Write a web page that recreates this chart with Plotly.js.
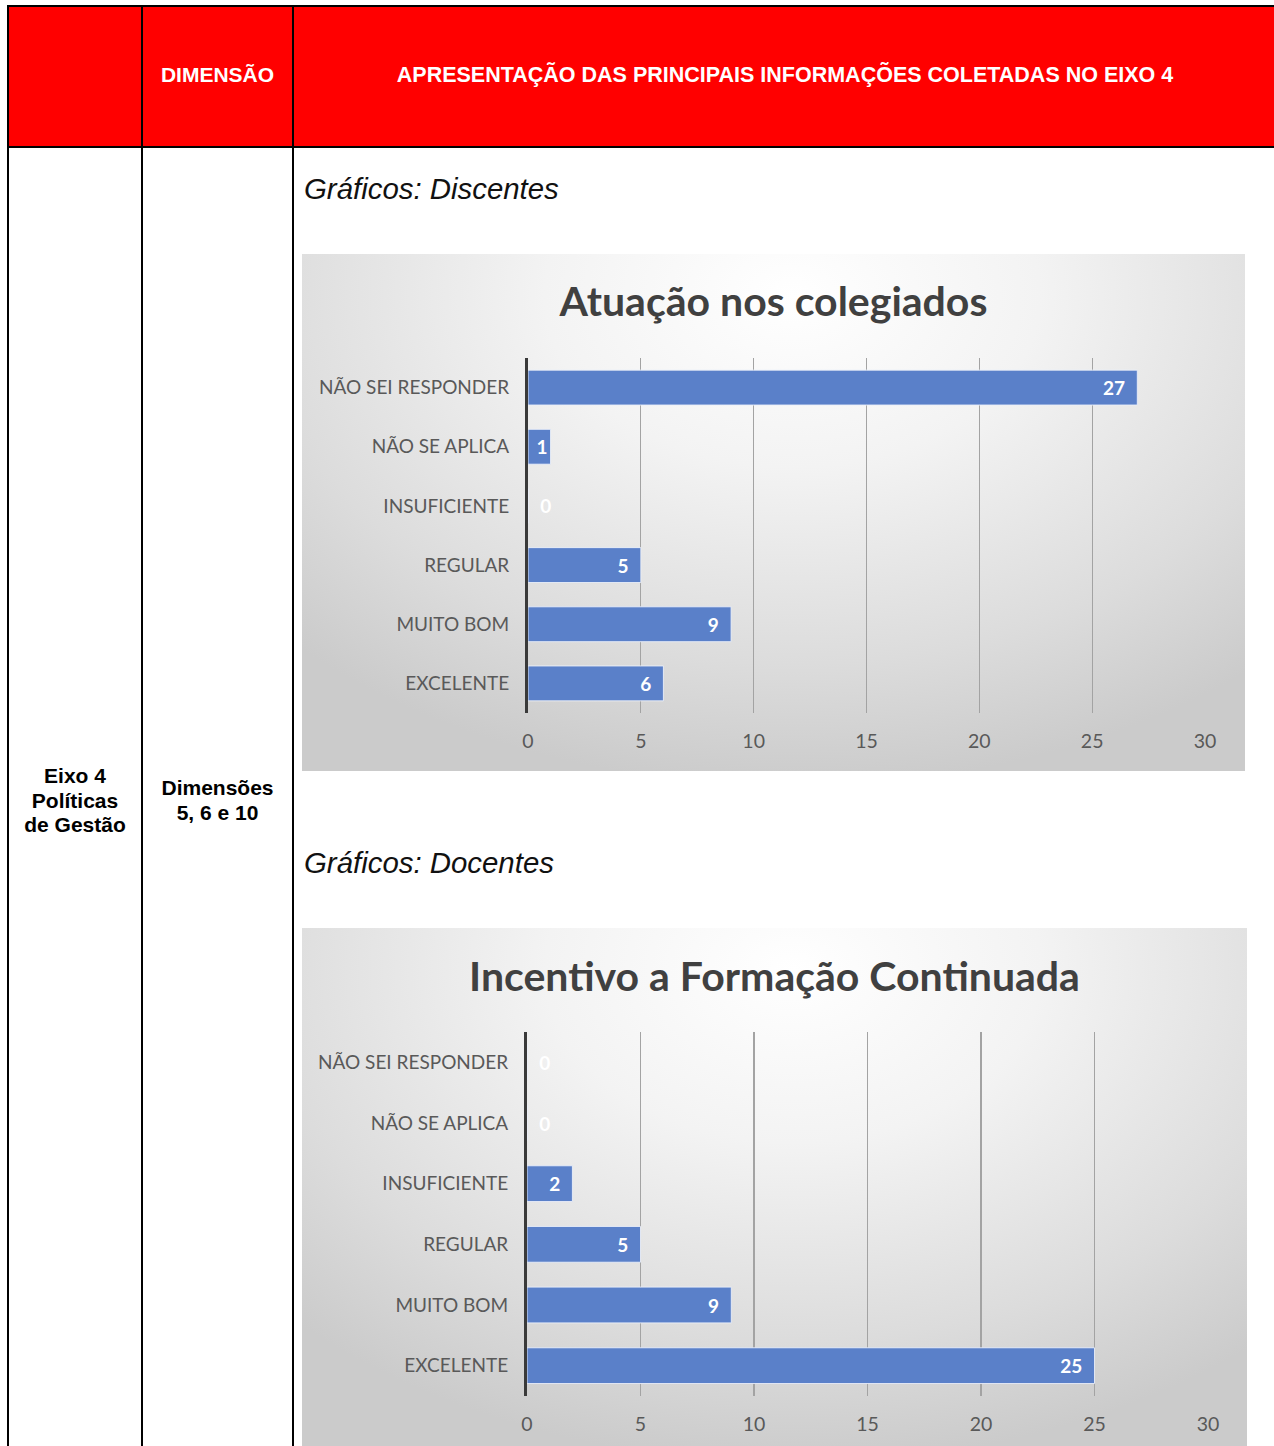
<!DOCTYPE html>
<html>
<head>
<meta charset="utf-8">
<script src="https://cdn.plot.ly/plotly-3.0.1.min.js"></script>
<style>
  html, body { margin:0; padding:0; background:#ffffff; }
  body { width:1274px; height:1446px; position:relative; overflow:hidden; font-family:"Liberation Sans", Arial, sans-serif; }
  .abs { position:absolute; }
  .line { position:absolute; background:#000; }
  .hdr { position:absolute; color:#fff; font-weight:bold; font-size:21px; text-align:center; line-height:24px; }
  .cell { position:absolute; color:#000; font-weight:bold; font-size:21px; text-align:center; line-height:24.5px; }
  .sub { position:absolute; font-style:italic; font-size:29.4px; color:#111; line-height:32px; }
  .panel { position:absolute; background: radial-gradient(ellipse 75% 95% at 52% 8%, #ffffff 0%, #f3f3f3 35%, #dcdcdc 75%, #cbcbcb 100%); }
</style>
</head>
<body>
  <!-- header fill -->
  <div class="abs" style="left:9px; top:6px; width:1270px; height:141px; background:#ff0000;"></div>
  <!-- borders -->
  <div class="line" style="left:7px; top:5px; width:1270px; height:2px;"></div>
  <div class="line" style="left:7px; top:5px; width:2px; height:1450px;"></div>
  <div class="line" style="left:141px; top:5px; width:2px; height:1450px;"></div>
  <div class="line" style="left:292px; top:5px; width:2px; height:1450px;"></div>
  <div class="line" style="left:7px; top:146px; width:1270px; height:2px;"></div>

  <div class="hdr" style="left:143px; width:149px; top:63px;">DIMENSÃO</div>
  <div class="hdr" style="left:294px; width:982px; top:63px; font-size:21.5px;">APRESENTAÇÃO DAS PRINCIPAIS INFORMAÇÕES COLETADAS NO EIXO 4</div>

  <div class="cell" style="left:9px; width:132px; top:764px;">Eixo 4<br>Políticas<br>de Gestão</div>
  <div class="cell" style="left:143px; width:149px; top:776px;">Dimensões<br>5, 6 e 10</div>

  <div class="sub" style="left:304px; top:173px;">Gráficos: Discentes</div>
  <div class="sub" style="left:304px; top:847px;">Gráficos: Docentes</div>

  <div class="panel" style="left:302px; top:254px; width:943px; height:517px;"></div>
  <div class="panel" style="left:302px; top:928px; width:945px; height:520px;"></div>

  <div id="chart1" class="abs" style="left:302px; top:254px; width:943px; height:517px;"></div>
  <div id="chart2" class="abs" style="left:302px; top:928px; width:945px; height:518px;"></div>

<script>
// ---- data ----
const categories = ["NÃO SEI RESPONDER", "NÃO SE APLICA", "INSUFICIENTE", "REGULAR", "MUITO BOM", "EXCELENTE"];
const discentesValues = [27, 1, 0, 5, 9, 6];
const docentesValues = [0, 0, 2, 5, 9, 25];
const xTickValues = [0, 5, 10, 15, 20, 25, 30];
const title1 = "Atuação nos colegiados";
const title2 = "Incentivo a Formação Continuada";

const NB = "\u00a0\u00a0";
const FONT = "Lato, 'Open Sans', sans-serif";

function labelFor(v) {
  if (v === 0) return NB + String(v);
  if (v >= 2) return String(v) + NB;
  return String(v);
}

function barTrace(values) {
  const tf = { family: FONT, size: 19, color: "#ffffff", weight: "bold" };
  return {
    type: "bar",
    orientation: "h",
    y: categories,
    x: values,
    text: values.map(labelFor),
    textposition: values.map(v => (v === 0 ? "outside" : "inside")),
    insidetextanchor: "end",
    constraintext: "none",
    textangle: 0,
    cliponaxis: false,
    textfont: tf,
    insidetextfont: tf,
    outsidetextfont: tf,
    marker: { color: "#5a80c9", line: { color: "rgba(235,240,250,0.9)", width: 1 } },
    hoverinfo: "none"
  };
}

function makeLayout(titleText, m, titleY) {
  return {
    paper_bgcolor: "rgba(0,0,0,0)",
    plot_bgcolor: "rgba(0,0,0,0)",
    showlegend: false,
    bargap: 0.41,
    margin: m,
    title: {
      text: titleText,
      x: 0.5, xanchor: "center",
      y: titleY, yanchor: "middle", yref: "container",
      font: { family: FONT, size: 41, color: "#404040", weight: "bold" }
    },
    xaxis: {
      range: [0, 30],
      tickvals: xTickValues,
      ticktext: xTickValues.map(String),
      showgrid: true,
      gridcolor: "#a3a3a3",
      gridwidth: 1.3,
      zeroline: false,
      showline: false,
      ticks: "",
      ticklabelstandoff: 14,
      tickfont: { family: FONT, size: 19.5, color: "#595959" },
      fixedrange: true
    },
    yaxis: {
      type: "category",
      autorange: "reversed",
      showgrid: false,
      zeroline: false,
      showline: true,
      linecolor: "#3a3a3a",
      linewidth: 3,
      ticks: "",
      ticklabelstandoff: 12,
      tickfont: { family: FONT, size: 19, color: "#595959" },
      fixedrange: true
    }
  };
}

const cfg = { displayModeBar: false, staticPlot: true };

Plotly.newPlot("chart1", [barTrace(discentesValues)],
  makeLayout(title1, { l: 226, r: 40, t: 104, b: 58, pad: 0 }, 1 - 48 / 517), cfg);
Plotly.newPlot("chart2", [barTrace(docentesValues)],
  makeLayout(title2, { l: 225, r: 39, t: 104, b: 50, pad: 0 }, 1 - 49 / 518), cfg);
</script>
</body>
</html>
